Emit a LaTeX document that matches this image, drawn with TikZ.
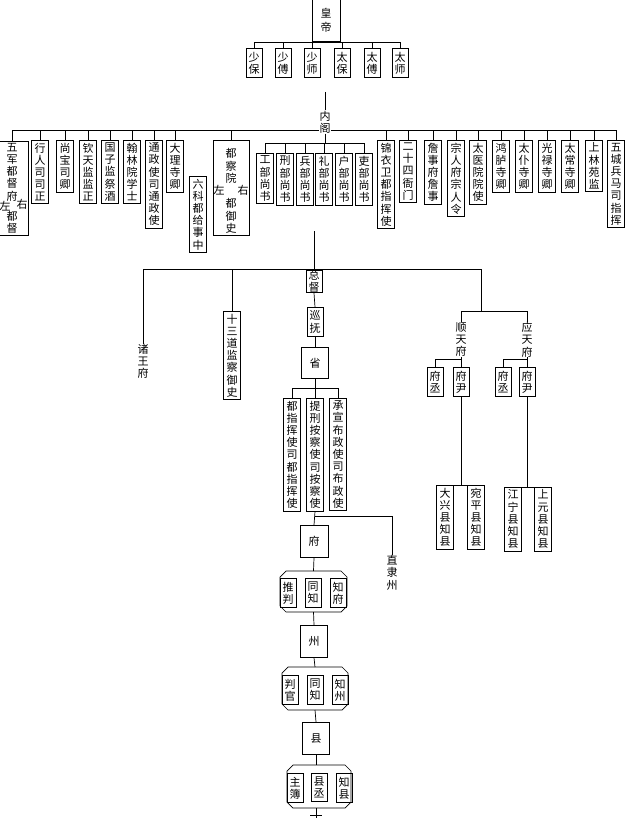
\documentclass[tikz,border=0pt]{standalone}
\usepackage{fontspec}
\newfontfamily\cjk{Noto Sans CJK SC}
\XeTeXlinebreaklocale "zh"
\XeTeXlinebreakskip=0pt plus 1pt
\begin{document}
\begin{tikzpicture}[x=1pt,y=-1pt,line width=0.7pt,
 txt/.style={font=\cjk\fontsize{11}{12.2}\selectfont,text width=11pt,align=center,inner sep=0pt},
 bx/.style={txt,draw,inner xsep=3pt,inner ysep=2.5pt,anchor=north},
 sb/.style={txt,draw,inner xsep=2.5pt,inner ysep=3.5pt,anchor=north},
 big/.style={draw,anchor=north,inner sep=0pt,font=\cjk\fontsize{11}{12}\selectfont}]
\newcommand\grpath[5]{% name, x1, x2, top, bottom
  \draw (#2+6,#4) -- (#3-6,#4) -- (#3,#4+6) -- (#3,#5-6) -- (#3-6,#5) -- (#2+6,#5) -- (#2,#5-6) -- (#2,#4+6) -- cycle;
  \coordinate (#1n) at ({(#2+#3)/2},#4);
  \coordinate (#1s) at ({(#2+#3)/2},#5);}
\useasboundingbox (0,0) rectangle (637,818);
% emperor
\node[big,minimum width=28pt,minimum height=42pt,align=center] (hd) at (326,-1) {皇\\[2pt]帝};
\coordinate (b1) at (0,42);
\foreach \n/\x/\t in {s1/254/少保,s2/283/少傅,s3/312/少师,s4/342/太保,s5/372/太傅,s6/400/太师}{
  \node[sb] (\n) at (\x,48) {\t};
  \draw (\n.north) -- (\n.north |- b1);
}
\draw (hd.south) -- (hd.south |- b1);
\draw (s1.north |- b1) -- (s6.north |- b1);
% neige
\coordinate (ntop) at (325,92);
\node[txt,fill=white] (ng) at (325,122) {内阁};
\draw (ntop) -- (ng.north);
\coordinate (b2) at (0,130);
\coordinate (b3) at (0,143);
\foreach \n/\x/\t in {a2/40/行人司司正,a3/65/尚宝司卿,a4/88/钦天监监正,a5/110/国子监祭酒,a6/132/翰林院学士,a7/154/通政使司通政使,a8/175/大理寺卿,
  c1/386/锦衣卫都指挥使,c2/408/二十四衙门,c3/433/詹事府詹事,c4/456/宗人府宗人令,c5/478/太医院院使,c6/501/鸿胪寺卿,c7/524/太仆寺卿,c8/547/光禄寺卿,c9/570/太常寺卿,c10/594/上林苑监,c11/616/五城兵马司指挥}{
  \node[bx] (\n) at (\x,140) {\t};
  \draw (\n.north) -- (\n.north |- b2);
}
\node[bx] (lk) at (198,176) {六科都给事中};
% wujun
\node[draw,anchor=north west,minimum width=33pt,minimum height=94pt] (a1) at (-5,141) {};
\node[txt] (a1t) at (12,172) {五军都督府};
\node[txt] (a1l) at (5,206) {左};
\node[txt] (a1r) at (22,204) {右};
\node[txt] (a1d) at (12,222) {都督};
\draw (a1.north -| a1t) -- (a1t |- b2);
% duchayuan
\node[draw,anchor=north,minimum width=36pt,minimum height=95pt] (dc) at (231,140) {};
\node[txt] (dct) at (231,166) {都察院};
\node[txt] (dcl) at (219,190) {左};
\node[txt] (dcr) at (243,190) {右};
\node[txt] (dcd) at (231,216) {都御史};
\draw (dc.north) -- (dc.north |- b2);
\draw (a1t |- b2) -- (ng.west |- b2);
\draw (ng.east |- b2) -- (c11.north |- b2);
% ministries
\foreach \n/\x/\t in {m1/265/工部尚书,m2/285/刑部尚书,m3/305/兵部尚书,m4/324/礼部尚书,m5/344/户部尚书,m6/364/吏部尚书}{
  \node[bx] (\n) at (\x,153) {\t};
  \draw (\n.north) -- (\n.north |- b3);
}
\draw (m1.north |- b3) -- (m6.north |- b3);
\draw (ng.south) -- (ng.south |- b3);
% middle
\coordinate (zt) at (314,231);
\coordinate (b4) at (0,269);
\node[sb,inner ysep=0pt] (zd) at (314,270) {总督};
\node[sb,inner ysep=3.5pt] (xf) at (315,307) {巡抚};
\node[big,minimum width=27pt,minimum height=31pt] (sh) at (315,347) {省};
\draw (zt) -- (zd.north);
\draw (zd.south) -- (xf.north);
\draw (xf.south) -- (sh.north);
\node[txt,anchor=north] (zw) at (143,344) {诸王府};
\node[bx] (js) at (232,311) {十三道监察御史};
\coordinate (ybend) at (481,269);
\draw (zw.north) -- (zw.north |- b4) -- (ybend);
\draw (js.north) -- (js.north |- b4);
\node[txt,anchor=north] (st) at (461,322) {顺天府};
\node[txt,anchor=north] (yt) at (527,322) {应天府};
\coordinate (b5) at (0,311);
\draw (ybend) -- (ybend |- b5);
\draw (st.north) -- (st.north |- b5) -- (yt.north |- b5) -- (yt.north);
\coordinate (b6) at (0,359);
\node[sb] (sf1) at (435,367) {府丞};
\node[sb] (sf2) at (461,367) {府尹};
\node[sb] (yf1) at (503,367) {府丞};
\node[sb] (yf2) at (527,367) {府尹};
\draw (sf1.north) -- (sf1.north |- b6) -- (sf2.north |- b6);
\draw (st.south) -- (sf2.north);
\draw (yf1.north) -- (yf1.north |- b6) -- (yf2.north |- b6);
\draw (yt.south) -- (yf2.north);
\node[bx] (dx) at (445,485) {大兴县知县};
\node[bx] (wp) at (476,485) {宛平县知县};
\node[bx] (jn) at (513,487) {江宁县知县};
\node[bx] (sy) at (543,487) {上元县知县};
\draw (dx.north west) -- (wp.north east);
\draw (jn.north west) -- (sy.north east);
\draw (sf2.south) -- (sf2.south |- dx.north);
\draw (yf2.south) -- (yf2.south |- jn.north);
% province
\coordinate (b7) at (0,388);
\node[bx] (p1) at (292,398) {都指挥使司都指挥使};
\node[bx] (p2) at (315,398) {提刑按察使司按察使};
\node[bx] (p3) at (338,398) {承宣布政使司布政使};
\draw (p1.north) -- (p1.north |- b7) -- (p3.north |- b7) -- (p3.north);
\draw (sh.south) -- (p2.north);
\node[big,minimum width=28pt,minimum height=32pt] (fu) at (314,525) {府};
\node[txt,anchor=north] (zl) at (392,555) {直隶州};
\coordinate (b8) at (0,516);
\draw (p2.south) -- (fu.north);
\draw (p2.south |- b8) -- (zl.north |- b8) -- (zl.north);
\grpath{g1}{280}{347}{571}{612}
\node[sb] (g1a) at (288,578) {推判};
\node[sb] (g1b) at (313,578) {同知};
\node[sb] (g1c) at (338,578) {知府};
\draw (fu.south) -- (g1n);
\node[big,minimum width=27pt,minimum height=32pt] (zh) at (314,625) {州};
\draw (g1s) -- (zh.north);
\grpath{g2}{282}{348}{667}{710}
\node[sb] (g2a) at (290,675) {判官};
\node[sb] (g2b) at (315,675) {同知};
\node[sb] (g2c) at (340,675) {知州};
\draw (zh.south) -- (g2n);
\node[big,minimum width=27pt,minimum height=32pt] (xn) at (316,722) {县};
\draw (g2s) -- (xn.north);
\grpath{g3}{287}{351}{765}{808}
\node[sb] (g3a) at (295,773) {主簿};
\node[sb] (g3b) at (319,773) {县丞};
\node[sb] (g3c) at (344,773) {知县};
\draw (xn.south) -- (xn.south |- g3n);
\coordinate (tl) at (316,818);
\draw (tl |- g3s) -- (tl);
\draw (310,815) -- (322,815);
\end{tikzpicture}
\end{document}
